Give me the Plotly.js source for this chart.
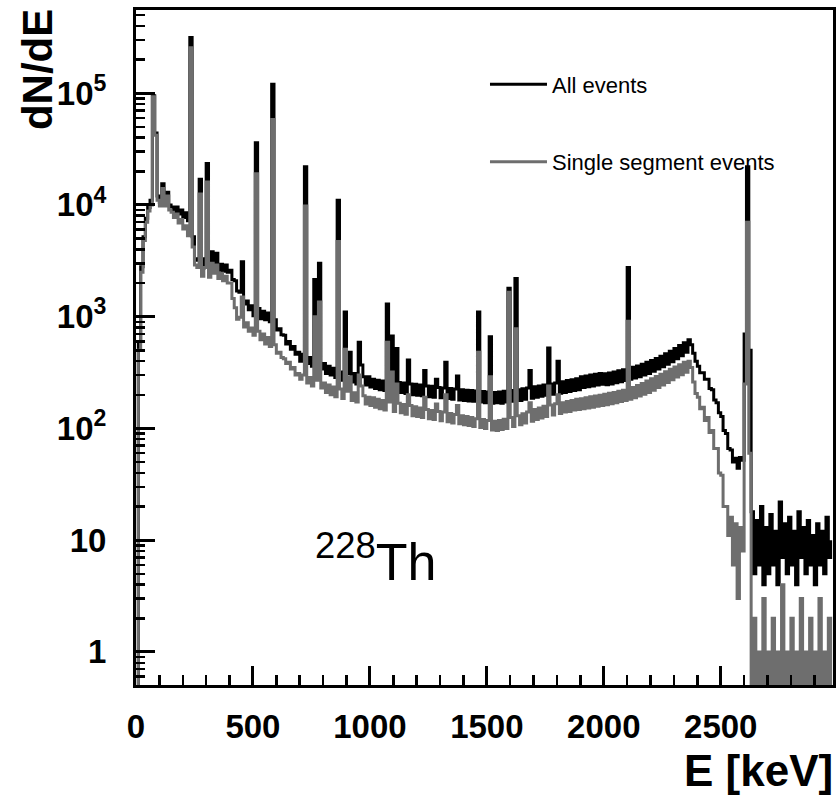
<!DOCTYPE html>
<html><head><meta charset="utf-8">
<script src="https://cdn.plot.ly/plotly-3.0.1.min.js"></script>
<style>html,body{margin:0;padding:0;background:#fff;}</style>
</head><body>
<div id="chart" style="width:836px;height:797px;"></div>
<script>
// Histogram: 10 keV bins starting at 0 keV (counts per bin)
const binStartKeV = 0;
const binWidthKeV = 10;

const allEvents = [
  0.3, 600, 2800, 5200, 7600, 9500, 11000, 95000, 44000, 12000,
  10500, 15500, 11000, 13000, 10000, 9600, 8700, 9600, 8300, 9000,
  7700, 8500, 7200, 315000, 5200, 3300, 3200, 17000, 2700, 3300,
  23500, 2650, 3800, 2900, 3700, 2600, 2950, 2550, 2900, 2500,
  2600, 2150, 2100, 1700, 1650, 3100, 1300, 1380, 1150, 1250,
  1020, 36000, 1180, 960, 1120, 940, 1080, 900, 120000, 940,
  760, 780, 690, 680, 570, 600, 510, 540, 460, 480,
  400, 460, 22000, 380, 430, 360, 2150, 400, 3000, 340,
  380, 310, 360, 300, 345, 285, 11000, 320, 270, 1100,
  310, 480, 260, 310, 250, 590, 370, 290, 245, 290,
  235, 275, 228, 270, 222, 265, 218, 1300, 260, 670,
  215, 520, 258, 210, 255, 205, 410, 250, 200, 248,
  198, 245, 196, 330, 240, 192, 238, 190, 275, 232,
  188, 230, 390, 185, 228, 182, 225, 295, 180, 222,
  178, 220, 176, 218, 175, 216, 1100, 172, 214, 170,
  212, 660, 168, 210, 170, 212, 168, 215, 172, 1800,
  218, 175, 2200, 222, 178, 226, 182, 230, 330, 186,
  236, 190, 240, 194, 245, 198, 525, 250, 202, 255,
  400, 206, 262, 210, 268, 214, 272, 218, 278, 222,
  290, 232, 295, 236, 300, 240, 305, 244, 310, 248,
  308, 246, 314, 250, 320, 256, 328, 262, 335, 268,
  2750, 275, 352, 282, 362, 290, 375, 300, 390, 310,
  405, 325, 422, 340, 442, 356, 465, 375, 490, 395,
  520, 420, 552, 448, 585, 480, 620, 560, 470, 400,
  360, 315, 315, 275, 275, 228, 222, 180, 170, 138,
  128, 96, 90, 66, 64, 50, 54, 44, 55, 52,
  700, 22000, 500, 18, 5, 15, 6, 20, 4, 13,
  5, 17, 6, 12, 4, 22, 7, 14, 5, 16,
  6, 12, 4, 18, 7, 13, 5, 15, 6, 11,
  4, 14, 6, 12, 5, 16, 7, 10
];

const singleSegmentEvents = [
  0.3, 500, 2500, 4800, 7000, 8800, 10000, 93000, 42000, 11000,
  9800, 14000, 9800, 12000, 9000, 8600, 7700, 8300, 6900, 7400,
  6100, 6500, 5300, 255000, 4200, 2900, 2750, 12500, 2300, 2750,
  16000, 2250, 3000, 2450, 2900, 2200, 2450, 2100, 2300, 2000,
  2000, 1450, 1200, 950, 990, 1500, 810, 880, 740, 790,
  680, 19000, 740, 620, 700, 570, 650, 540, 58000, 560,
  470, 480, 430, 420, 380, 390, 340, 350, 300, 310,
  275, 300, 9800, 255, 285, 240, 1000, 270, 1350, 230,
  255, 210, 245, 200, 235, 192, 4700, 225, 185, 510,
  215, 290, 178, 208, 172, 300, 240, 196, 165, 190,
  160, 188, 155, 182, 150, 178, 146, 590, 172, 320,
  142, 250, 168, 138, 164, 134, 200, 160, 130, 156,
  128, 152, 125, 190, 148, 122, 145, 120, 165, 142,
  117, 140, 200, 115, 136, 112, 133, 160, 110, 130,
  108, 128, 106, 125, 104, 122, 480, 102, 120, 100,
  118, 290, 97, 116, 96, 118, 98, 121, 100, 1650,
  125, 104, 780, 130, 108, 135, 112, 140, 170, 116,
  148, 120, 152, 124, 158, 128, 240, 162, 132, 166,
  200, 136, 170, 140, 174, 142, 178, 146, 182, 148,
  184, 150, 188, 152, 192, 155, 195, 158, 198, 160,
  202, 163, 206, 166, 210, 170, 215, 174, 220, 178,
  910, 182, 232, 188, 242, 195, 252, 202, 265, 210,
  278, 220, 292, 232, 306, 244, 322, 258, 338, 272,
  355, 288, 372, 302, 390, 318, 400, 350, 260, 205,
  190, 150, 155, 118, 125, 92, 96, 66, 66, 40,
  38, 20, 20, 11, 16, 6, 14, 3, 13, 8,
  250, 7000, 60, 0.3, 2, 0.3, 1, 0.3, 3, 0.3,
  1, 0.3, 2, 0.3, 1, 0.3, 4, 0.3, 1, 0.3,
  2, 0.3, 1, 0.3, 3, 0.3, 1, 0.3, 2, 0.3,
  1, 0.3, 3, 0.3, 1, 0.3, 2, 0.3
];

const seriesNames = ['All events', 'Single segment events'];
const yTickVals = [1, 10, 100, 1000, 10000, 100000];
const yTickText = ['1', '10', '10<sup>2</sup>', '10<sup>3</sup>', '10<sup>4</sup>', '10<sup>5</sup>'];

const FONT = 'Liberation Sans, Arial, Helvetica, sans-serif';

const traces = [
  {
    type: 'scatter', mode: 'lines', name: seriesNames[0],
    x0: binStartKeV, dx: binWidthKeV, y: allEvents,
    line: {shape: 'hv', color: '#000000', width: 3},
    legendgroup: 'all'
  },
  {
    type: 'scatter', mode: 'lines', name: seriesNames[1],
    x0: binStartKeV, dx: binWidthKeV, y: singleSegmentEvents,
    line: {shape: 'hv', color: '#6e6e6e', width: 3},
    legendgroup: 'single'
  }
];

const layout = {
  width: 836, height: 797,
  margin: {l: 136, r: 3, t: 10, b: 112, pad: 0},
  paper_bgcolor: '#ffffff', plot_bgcolor: '#ffffff',
  font: {family: FONT, color: '#000000'},
  showlegend: true,
  xaxis: {
    range: [0, 2980], tickmode: 'linear', tick0: 0, dtick: 500,
    ticks: 'inside', ticklen: 19, tickwidth: 3, tickcolor: '#000',
    minor: {dtick: 100, ticks: 'inside', ticklen: 10, tickwidth: 2.5, tickcolor: '#000', showgrid: false},
    showline: true, linewidth: 3, linecolor: '#000', mirror: true,
    showgrid: false, zeroline: false, layer: 'above traces',
    tickfont: {family: FONT, size: 33, weight: 700, color: '#000'},
    ticklabelstandoff: 10
  },
  yaxis: {
    type: 'log', range: [-0.296, 5.744],
    tickmode: 'array', tickvals: yTickVals, ticktext: yTickText,
    ticks: 'inside', ticklen: 19, tickwidth: 3, tickcolor: '#000',
    minor: {dtick: 'D1', ticks: 'inside', ticklen: 9, tickwidth: 2.5, tickcolor: '#000', showgrid: false},
    showline: true, linewidth: 3, linecolor: '#000', mirror: true,
    showgrid: false, zeroline: false, layer: 'above traces',
    tickfont: {family: FONT, size: 33, weight: 700, color: '#000'},
    ticklabelstandoff: 20
  },
  legend: {
    x: 0.5007, y: 0.921, xanchor: 'left', yanchor: 'top',
    traceorder: 'grouped', tracegroupgap: 46,
    bgcolor: 'rgba(0,0,0,0)', borderwidth: 0,
    font: {family: FONT, size: 22, color: '#000'}, itemwidth: 57
  },
  annotations: [
    {text: 'dN/dE', textangle: -90, xref: 'paper', yref: 'paper',
     x: -0.142, y: 0.911, xanchor: 'center', yanchor: 'middle', showarrow: false,
     font: {family: FONT, size: 42, weight: 700, color: '#000'}},
    {text: 'E [keV]', xref: 'paper', yref: 'paper',
     x: 1.003, y: -0.126, xanchor: 'right', yanchor: 'middle', showarrow: false,
     font: {family: FONT, size: 44, weight: 700, color: '#000'}},
    {text: '<sup>228</sup>Th', xref: 'paper', yref: 'paper',
     x: 0.254, y: 0.188, xanchor: 'left', yanchor: 'middle', showarrow: false,
     font: {family: FONT, size: 52, color: '#000'}}
  ]
};

Plotly.newPlot('chart', traces, layout, {displayModeBar: false, staticPlot: true})
  .then(gd => Plotly.relayout(gd, {'xaxis.range': [0, 2980], 'yaxis.range': [-0.296, 5.744]}));
</script>
</body></html>
